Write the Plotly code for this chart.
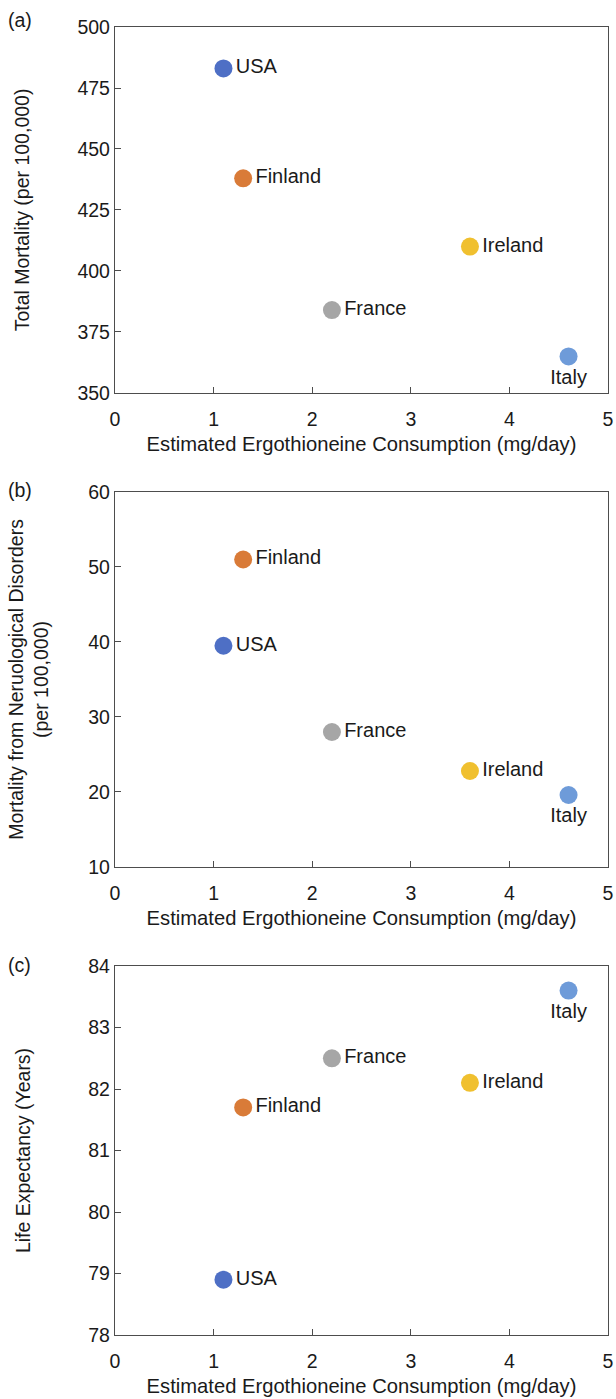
import plotly.graph_objects as go

countries = ["USA", "Finland", "France", "Ireland", "Italy"]
consumption = [1.1, 1.3, 2.2, 3.6, 4.6]
total_mortality = [483, 438, 384, 410, 365]
neuro_mortality = [39.5, 51, 28, 22.8, 19.6]
life_expectancy = [78.9, 81.7, 82.5, 82.1, 83.6]
colors = ["#4E6FC5", "#D97B38", "#A6A6A6", "#F0C02F", "#6E9BD9"]
text_pos = ["middle right", "middle right", "middle right", "middle right", "bottom center"]

x_ticks = [0, 1, 2, 3, 4, 5]
FONT = "Liberation Sans, Arial, sans-serif"
AX = "#4d4d4d"
TXT = "#1a1a1a"

panels = [
    dict(y=total_mortality, yrange=[350, 500], dtick=25,
         ytitle="Total Mortality (per 100,000)", label="(a)", dom=[0.7202, 1.0],
         labely=1.0054, standoff=42),
    dict(y=neuro_mortality, yrange=[10, 60], dtick=10,
         ytitle="Mortality from Neruological Disorders<br>(per 100,000)", label="(b)",
         dom=[0.3578, 0.6445], labely=0.646, standoff=34),
    dict(y=life_expectancy, yrange=[78, 84], dtick=1,
         ytitle="Life Expectancy (Years)", label="(c)", dom=[0.0, 0.2821],
         labely=0.2829, standoff=52),
]

fig = go.Figure()
for i, p in enumerate(panels):
    n = i + 1
    xa = "x" if n == 1 else f"x{n}"
    ya = "y" if n == 1 else f"y{n}"
    fig.add_trace(go.Scatter(
        x=consumption, y=p["y"], mode="markers+text",
        text=countries,
        textposition=text_pos,
        textfont=dict(family=FONT, size=20, color=TXT),
        marker=dict(size=18, color=colors, line=dict(width=0)),
        xaxis=xa, yaxis=ya, showlegend=False, cliponaxis=False,
    ))
    axcommon = dict(showline=True, linecolor=AX, linewidth=1.3, mirror=True,
                    showgrid=False, zeroline=False, ticks="inside", ticklen=6,
                    tickcolor=AX, automargin=False,
                    tickfont=dict(family=FONT, size=19.5, color=TXT))
    fig.layout[("xaxis" if n == 1 else f"xaxis{n}")] = dict(
        axcommon, range=[0, 5], tickvals=x_ticks, domain=[0, 1],
        anchor=ya, ticklabelstandoff=8,
        title=dict(text="Estimated Ergothioneine Consumption (mg/day)",
                   font=dict(family=FONT, size=20.2, color=TXT), standoff=8))
    fig.layout[("yaxis" if n == 1 else f"yaxis{n}")] = dict(
        axcommon, range=p["yrange"], dtick=p["dtick"], domain=p["dom"], anchor=xa,
        title=dict(text=p["ytitle"], font=dict(family=FONT, size=19.5, color=TXT),
                   standoff=p["standoff"]))
    fig.add_annotation(text=p["label"], x=-0.1927, y=p["labely"], xref="paper", yref="paper",
                       xanchor="center", yanchor="middle", showarrow=False,
                       font=dict(family=FONT, size=19.5, color=TXT))

fig.update_layout(width=616, height=1399, margin=dict(l=115, r=8, t=27, b=64),
                  paper_bgcolor="white", plot_bgcolor="white")
# remove the default page margin so the figure fills the window exactly
fig.write_html("out.html", config={"displayModeBar": False}, post_script=(
    "document.body.style.margin='0';"
    "document.body.style.overflow='hidden';"
    "document.documentElement.style.overflow='hidden';"))
